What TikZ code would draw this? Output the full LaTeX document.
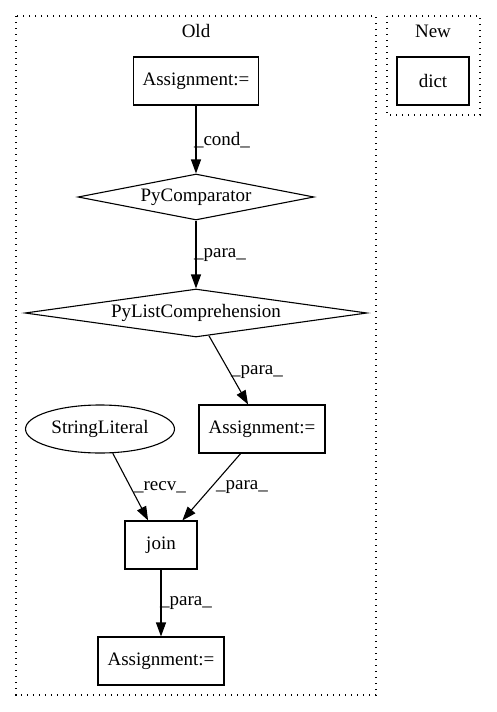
\documentclass[tikz,border=0pt]{standalone}
\usepackage{fontspec}
\setmainfont{Liberation Serif}
\usetikzlibrary{arrows.meta,shapes.geometric}
\begin{document}
\begin{tikzpicture}[x=1pt,y=-1pt,
  every node/.style={font=\fontsize{19}{22}\selectfont, inner sep=0pt},
  box/.style={draw, line width=1.1pt, rectangle, minimum width=125pt, minimum height=48pt},
  dia/.style={draw, line width=1.1pt, diamond, aspect=#1},
  ell/.style={draw, line width=1.1pt, ellipse, minimum width=149pt, minimum height=48pt},
  clus/.style={draw, line width=1.3pt, dash pattern=on 1.3pt off 4.7pt},
  edge/.style={draw, line width=1.1pt, -{Triangle[length=14pt,width=10pt]}},
  lbl/.style={}]
\useasboundingbox (0,0) rectangle (496,712);
\draw[clus] (16,16) rectangle (376,695);
\draw[clus] (387,16) rectangle (480,115);
\node (old) at (196,31) {Old};
\node (new) at (433,31) {New};
\node[box] (a1) at (196,81) {Assignment:=};
\node[box, minimum width=72pt] (dict) at (433,81) {dict};
\node[dia=5.13, minimum width=236pt, minimum height=46pt] (pc) at (196,197) {PyComparator};
\node[dia=7.1, minimum width=342pt, minimum height=48pt] (pl) at (196,313) {PyListComprehension};
\node[ell] (sl) at (100,429) {StringLiteral};
\node[box, minimum width=126pt] (a2) at (262,429) {Assignment:=};
\node[box, minimum width=72pt] (join) at (161,545) {join};
\node[box, minimum width=126pt] (a3) at (161,661) {Assignment:=};
\draw[edge] (a1) -- (pc);
\draw[edge] (pc) -- (pl);
\draw[edge] (pl) -- (a2);
\draw[edge] (sl) -- (join);
\draw[edge] (a2) -- (join);
\draw[edge] (join) -- (a3);
\node[lbl] (l1) at (222,140) {\_cond\_};
\node[lbl] (l2) at (220,255) {\_para\_};
\node[lbl] (l3) at (257,372) {\_para\_};
\node[lbl] (l4) at (160,487) {\_recv\_};
\node[lbl] (l5) at (242,487) {\_para\_};
\node[lbl] (l6) at (186,603) {\_para\_};
\end{tikzpicture}
\end{document}
